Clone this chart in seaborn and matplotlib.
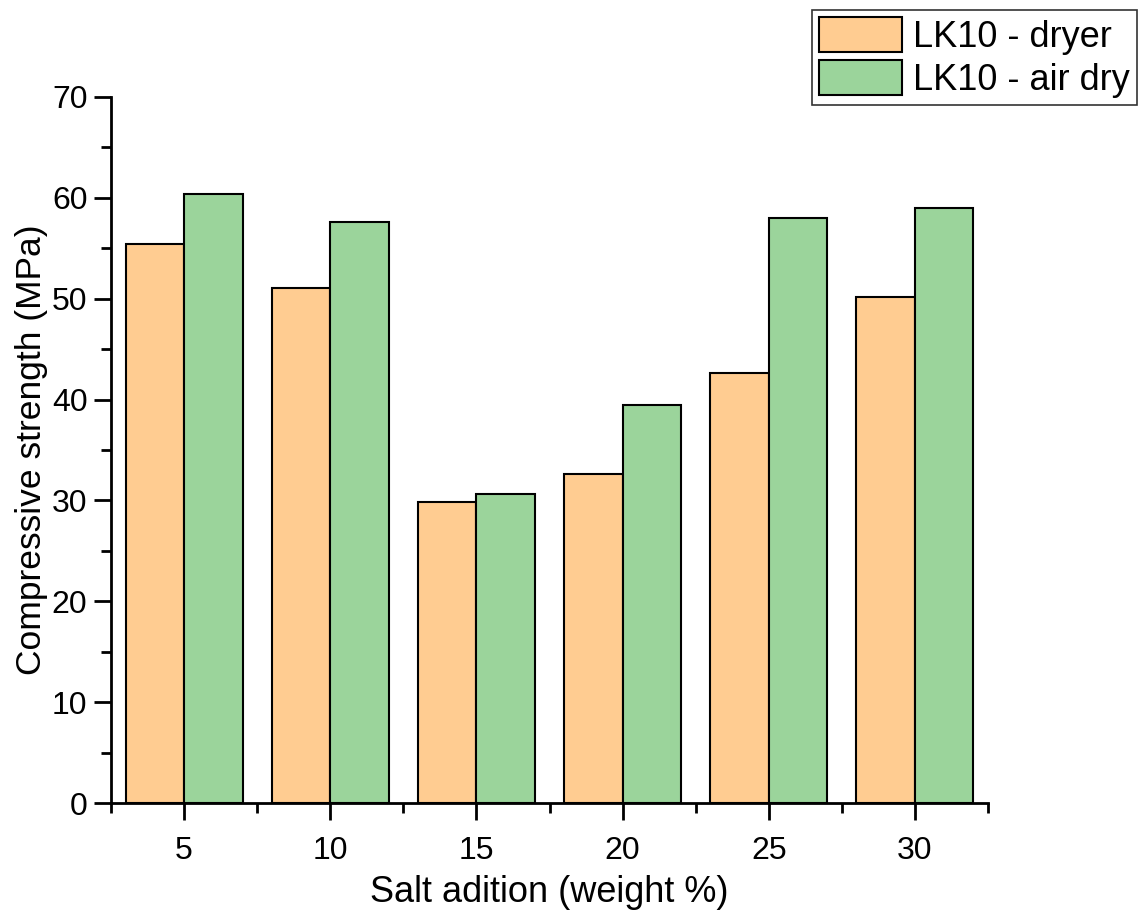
import matplotlib
matplotlib.use("Agg")
import matplotlib.pyplot as plt
import seaborn as sns
import pandas as pd
from matplotlib.ticker import MultipleLocator, FixedLocator

categories = ["5", "10", "15", "20", "25", "30"]
dryer = [55.4, 51.1, 29.8, 32.6, 42.6, 50.2]
air_dry = [60.4, 57.6, 30.6, 39.5, 58.0, 59.0]
series_names = ["LK10 - dryer", "LK10 - air dry"]
colors = ["#FFCC91", "#9BD49B"]

df = pd.DataFrame({
    "cat": categories * 2,
    "val": dryer + air_dry,
    "series": [series_names[0]] * len(categories) + [series_names[1]] * len(categories),
})

sns.set_theme(style="ticks")
plt.rcParams["font.family"] = ["Liberation Sans", "DejaVu Sans"]
plt.rcParams["text.color"] = "black"
plt.rcParams["axes.labelcolor"] = "black"
plt.rcParams["xtick.color"] = "black"
plt.rcParams["ytick.color"] = "black"

fig = plt.figure(figsize=(11.41, 9.15), dpi=100)
ax = fig.add_axes([0.0973, 0.1224, 0.7686, 0.7716])

sns.barplot(data=df, x="cat", y="val", hue="series", order=categories,
            hue_order=series_names, palette=colors, width=0.8,
            edgecolor="black", linewidth=1.5, saturation=1, ax=ax, legend=True)

ax.set_xlim(-0.5, 5.5)
ax.set_ylim(0, 70)
ax.yaxis.set_major_locator(MultipleLocator(10))
ax.yaxis.set_minor_locator(MultipleLocator(5))
ax.xaxis.set_minor_locator(FixedLocator([i - 0.5 for i in range(len(categories) + 1)]))

for s in ["top", "right"]:
    ax.spines[s].set_visible(False)
for s in ["left", "bottom"]:
    ax.spines[s].set_linewidth(2)
    ax.spines[s].set_color("black")

ax.tick_params(axis="both", which="major", length=12, width=2, direction="out",
               labelsize=23, labelcolor="black", colors="black", pad=5)
ax.tick_params(axis="both", which="minor", length=7, width=2, direction="out", colors="black")
ax.tick_params(axis="x", which="major", pad=12)

ax.set_xlabel("Salt adition (weight %)", fontsize=26, labelpad=6, color="black")
ax.set_ylabel("Compressive strength (MPa)", fontsize=25.5, labelpad=3, color="black")

handles, labels = ax.get_legend_handles_labels()
if ax.legend_:
    ax.legend_.remove()
leg = fig.legend(handles, labels, loc="upper right", bbox_to_anchor=(0.9965, 0.989),
                 bbox_transform=fig.transFigure, fontsize=26, frameon=True, fancybox=False,
                 borderaxespad=0, borderpad=0.2, handlelength=2.3, handleheight=1.1,
                 handletextpad=0.3, labelspacing=0.15)
leg.get_frame().set_edgecolor("black")
leg.get_frame().set_linewidth(1.2)
for t in leg.get_texts():
    t.set_color("black")
for h in leg.legend_handles:
    h.set_edgecolor("black")
    h.set_linewidth(1.5)

fig.savefig("out.png", dpi=100, facecolor="white")
